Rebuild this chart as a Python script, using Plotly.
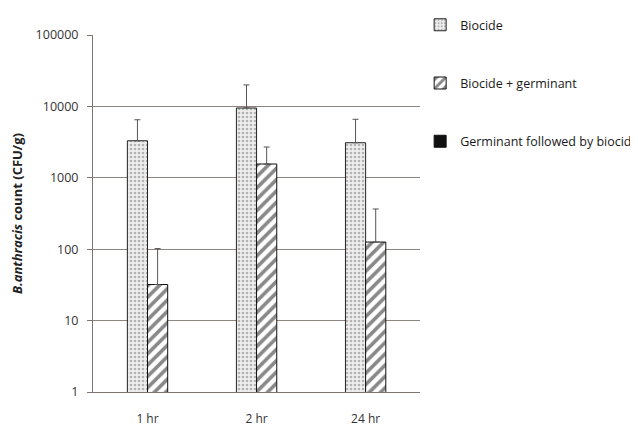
import plotly.graph_objects as go

categories = ["1 hr", "2 hr", "24 hr"]
biocide = [3300, 9500, 3100]
biocide_err = [3200, 10500, 3500]
biocide_germ = [32, 1560, 126]
biocide_germ_err = [70, 1140, 240]
germ_then_biocide = [None, None, None]
tick_vals = [1, 10, 100, 1000, 10000, 100000]
tick_text = ["1", "10", "100", "1000", "10000", "100000"]

font_fam = "Open Sans, Liberation Sans, sans-serif"
err_style = dict(type="data", symmetric=False, color="#555555", thickness=1, width=3)

fig = go.Figure()
fig.add_trace(go.Bar(
    x=categories, y=biocide, name="Biocide", legendgroup="a", offsetgroup="1",
    marker=dict(color="#e6e6e6", line=dict(color="#222222", width=1),
                pattern=dict(shape=".", fgcolor="#777777", bgcolor="#eeeeee", size=4, solidity=0.35)),
    error_y=dict(array=biocide_err, arrayminus=[0, 0, 0], **err_style),
))
fig.add_trace(go.Bar(
    x=categories, y=biocide_germ, name="Biocide + germinant", legendgroup="b", offsetgroup="2",
    marker=dict(color="white", line=dict(color="#111111", width=1),
                pattern=dict(shape="/", fgcolor="#111111", bgcolor="white", size=8, solidity=0.45)),
    error_y=dict(array=biocide_germ_err, arrayminus=[0, 0, 0], **err_style),
))
fig.add_trace(go.Bar(
    x=categories, y=germ_then_biocide, name="Germinant followed by biocide", legendgroup="c",
    offsetgroup="2",
    marker=dict(color="#111111", line=dict(color="#111111", width=1)),
))

fig.update_layout(
    width=638, height=428,
    margin=dict(l=85, r=224, t=27, b=44),
    paper_bgcolor="white", plot_bgcolor="white",
    barmode="group", bargap=0.63, bargroupgap=0,
    font=dict(family=font_fam, size=12, color="#333333"),
    showlegend=True,
    legend=dict(xref="container", yref="container", x=0.646, y=0.995,
                xanchor="left", yanchor="top",
                tracegroupgap=39, font=dict(size=12.5, color="#1a1a1a"),
                itemwidth=30, bgcolor="rgba(0,0,0,0)"),
    xaxis=dict(showline=True, linecolor="#7f7570", linewidth=1, ticks="",
               ticklabelstandoff=16, automargin=False,
               tickfont=dict(size=12, color="#333333"), showgrid=False),
    yaxis=dict(type="log", range=[0, 5], tickvals=tick_vals, ticktext=tick_text,
               showgrid=True, gridcolor="#8f8580", gridwidth=1,
               showline=True, linecolor="#7f7570", linewidth=1,
               ticks="outside", ticklen=5, tickcolor="#7f7570",
               ticklabelstandoff=6, automargin=False,
               tickfont=dict(size=12.5, color="#333333"),
               title=dict(text="<b><i>B.anthracis</i> count (CFU/g)</b>",
                          font=dict(size=13, color="#222222"), standoff=12)),
)
fig.write_html("out.html")
